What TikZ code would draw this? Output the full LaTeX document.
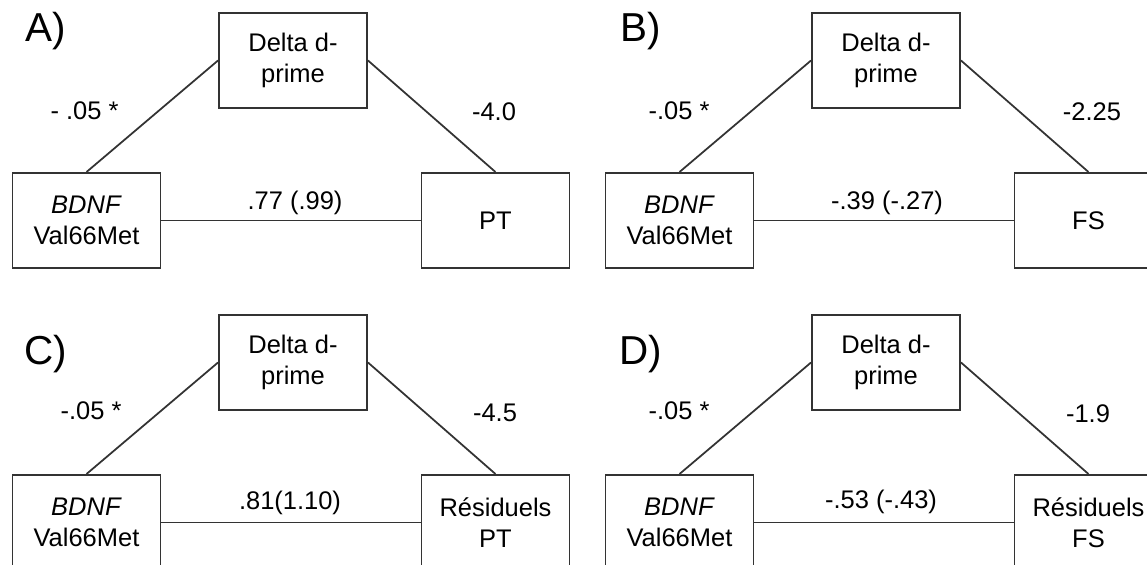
\documentclass[tikz,border=0pt]{standalone}
\usepackage{fontspec}
\setmainfont{Liberation Sans}

\begin{document}
\begin{tikzpicture}[
    box/.style={draw=black!80, line width=1.1pt, minimum width=2.96cm, minimum height=1.90cm, inner sep=0pt, align=center, font=\fontsize{14.5}{17.5}\selectfont},
    coef/.style={font=\fontsize{14.5}{17.5}\selectfont},
    panel/.style={font=\fontsize{23}{27}\selectfont},
    link/.style={draw=black!80, line width=1pt}
  ]

    % Marco de la figura
        \clip (0,0) rectangle (22.94,11.30);

    % Panel A
        \node[panel] (labA) at (0.92,10.68) {A)};
        \node[box] (bdnfA) at (1.73,6.89) {\textit{BDNF}\\Val66Met};
        \node[box] (deltaA) at (5.86,10.09) {Delta d-\\prime};
        \node[box] (ptA) at (9.91,6.89) {PT};

        \draw[link] (deltaA.west) -- (bdnfA.north);
        \draw[link] (deltaA.east) -- (ptA.north);
        \draw[link] (bdnfA.east) -- (ptA.west);

        \node[coef] at (1.69,9.08) {- .05 *};
        \node[coef] at (9.88,9.07) {-4.0};
        \node[coef] at (5.90,7.24) {.77 (.99)};

    % Panel B
        \node[panel] (labB) at (12.82,10.68) {B)};
        \node[box] (bdnfB) at (13.59,6.89) {\textit{BDNF}\\Val66Met};
        \node[box] (deltaB) at (17.72,10.09) {Delta d-\\prime};
        \node[box] (fsB) at (21.77,6.89) {FS};

        \draw[link] (deltaB.west) -- (bdnfB.north);
        \draw[link] (deltaB.east) -- (fsB.north);
        \draw[link] (bdnfB.east) -- (fsB.west);

        \node[coef] at (13.58,9.08) {-.05 *};
        \node[coef] at (21.84,9.07) {-2.25};
        \node[coef] at (17.74,7.24) {-.39 (-.27)};

    % Panel C
        \node[panel] (labC) at (0.92,4.22) {C)};
        \node[box] (bdnfC) at (1.73,0.85) {\textit{BDNF}\\Val66Met};
        \node[box] (deltaC) at (5.86,4.05) {Delta d-\\prime};
        \node[box] (resC) at (9.91,0.85) {Résiduels\\PT};

        \draw[link] (deltaC.west) -- (bdnfC.north);
        \draw[link] (deltaC.east) -- (resC.north);
        \draw[link] (bdnfC.east) -- (resC.west);

        \node[coef] at (1.82,3.08) {-.05 *};
        \node[coef] at (9.90,3.04) {-4.5};
        \node[coef] at (5.80,1.24) {.81(1.10)};

    % Panel D
        \node[panel] (labD) at (12.82,4.22) {D)};
        \node[box] (bdnfD) at (13.59,0.85) {\textit{BDNF}\\Val66Met};
        \node[box] (deltaD) at (17.72,4.05) {Delta d-\\prime};
        \node[box] (resD) at (21.77,0.85) {Résiduels\\FS};

        \draw[link] (deltaD.west) -- (bdnfD.north);
        \draw[link] (deltaD.east) -- (resD.north);
        \draw[link] (bdnfD.east) -- (resD.west);

        \node[coef] at (13.58,3.08) {-.05 *};
        \node[coef] at (21.76,3.03) {-1.9};
        \node[coef] at (17.62,1.26) {-.53 (-.43)};

\end{tikzpicture}
\end{document}
